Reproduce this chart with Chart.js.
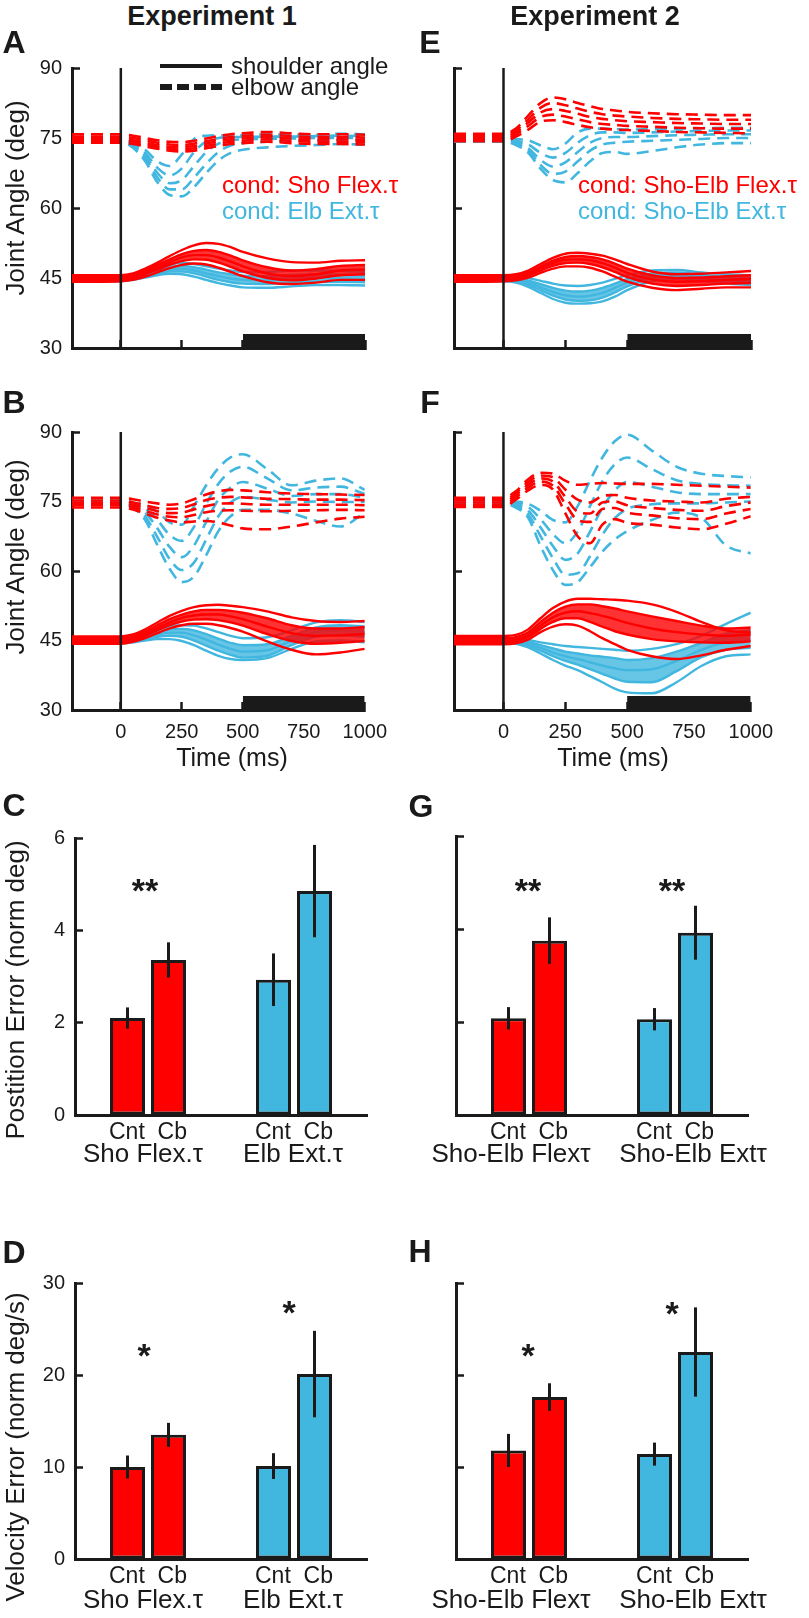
<!DOCTYPE html>
<html lang="en">
<head>
<meta charset="UTF-8">
<title>Joint angle traces and tracking errors</title>
<script src="https://cdn.jsdelivr.net/npm/chart.js"></script>
<style>
    body { margin: 0; background: #fff; }
    #fig { position: relative; width: 809px; height: 1618px; overflow: hidden;
           font-family: "Liberation Sans", Arial, Helvetica, sans-serif; color: #1a1a1a; }
    #fig canvas { position: absolute; }

    /* text placed by its centre */
    .t { position: absolute; white-space: nowrap; line-height: 1; transform: translate(-50%, -50%); z-index: 2; }
    .left { transform: translate(0, -50%); }
    .rot { transform: translate(-50%, -50%) rotate(-90deg); font-size: 26px; }
    .exp { font-weight: bold; font-size: 27px; }
    .letter { font-weight: bold; font-size: 32px; }
    .leg, .cond { font-size: 24px; }
    .red { color: #ff0000; }
    .blue { color: #41b7e0; }
    .xt { font-size: 25px; }
    .grp { font-size: 26px; }
    .star { font-weight: bold; font-size: 34px; }

    /* legend swatches */
    .swatch { position: absolute; z-index: 2; left: 160px; width: 62px; }
    .solid { top: 64px; height: 4px; background: #1a1a1a; }
    .dashed { top: 84px; height: 6px; background: repeating-linear-gradient(90deg, #1a1a1a 0 12px, transparent 12px 17px); }
</style>
</head>
<body>
<div id="fig">
    <div class="t exp" style="left:212px;top:16px">Experiment 1</div>
    <div class="t exp" style="left:595px;top:16px">Experiment 2</div>

    <div class="t letter" style="left:14px;top:42px">A</div>
    <div class="t letter" style="left:430px;top:42px">E</div>
    <div class="t letter" style="left:14px;top:402px">B</div>
    <div class="t letter" style="left:430px;top:402px">F</div>
    <div class="t letter" style="left:14px;top:805px">C</div>
    <div class="t letter" style="left:421px;top:806px">G</div>
    <div class="t letter" style="left:14px;top:1252px">D</div>
    <div class="t letter" style="left:420px;top:1251px">H</div>

    <div class="t rot" style="left:15px;top:198px">Joint Angle (deg)</div>
    <div class="t rot" style="left:15px;top:557px">Joint Angle (deg)</div>
    <div class="t rot" style="left:15px;top:990px">Postition Error (norm deg)</div>
    <div class="t rot" style="left:15px;top:1447px">Velocity Error (norm deg/s)</div>

    <div class="swatch solid"></div>
    <div class="swatch dashed"></div>
    <div class="t left leg" style="left:231px;top:66px">shoulder angle</div>
    <div class="t left leg" style="left:231px;top:87px">elbow angle</div>

    <div class="t left cond red" style="left:222px;top:185px">cond: Sho Flex.τ</div>
    <div class="t left cond blue" style="left:222px;top:211px">cond: Elb Ext.τ</div>
    <div class="t left cond red" style="left:578px;top:185px">cond: Sho-Elb Flex.τ</div>
    <div class="t left cond blue" style="left:578px;top:211px">cond: Sho-Elb Ext.τ</div>

    <div class="t xt" style="left:232px;top:757px">Time (ms)</div>
    <div class="t xt" style="left:613px;top:757px">Time (ms)</div>

    <div class="t grp" style="left:143px;top:1153px">Sho Flex.τ</div>
    <div class="t grp" style="left:293px;top:1153px">Elb Ext.τ</div>
    <div class="t grp" style="left:511px;top:1153px">Sho-Elb Flexτ</div>
    <div class="t grp" style="left:693px;top:1153px">Sho-Elb Extτ</div>
    <div class="t grp" style="left:143px;top:1599px">Sho Flex.τ</div>
    <div class="t grp" style="left:293px;top:1599px">Elb Ext.τ</div>
    <div class="t grp" style="left:511px;top:1599px">Sho-Elb Flexτ</div>
    <div class="t grp" style="left:693px;top:1599px">Sho-Elb Extτ</div>

    <div class="t star" style="left:145px;top:890px">**</div>
    <div class="t star" style="left:528px;top:890px">**</div>
    <div class="t star" style="left:672px;top:890px">**</div>
    <div class="t star" style="left:144px;top:1355px">*</div>
    <div class="t star" style="left:289px;top:1312px">*</div>
    <div class="t star" style="left:528px;top:1355px">*</div>
    <div class="t star" style="left:672px;top:1313px">*</div>
</div>

<script>
    const RED = '#ff0000';
    const BLUE = '#41b7e0';
    const RED_BAND = 'rgba(255, 0, 0, 0.8)';
    const BLUE_BAND = 'rgba(65, 183, 224, 0.8)';
    const INK = '#1a1a1a';

    // time base shared by every trace (ms from perturbation onset)
    const timeMs = [-200, -100, 0, 50, 100, 150, 200, 250, 300, 350, 400, 450, 500, 600, 700, 800, 900, 1000];
    const timeTicks = [0, 250, 500, 750, 1000];
    const angleTicks = [30, 45, 60, 75, 90];
    const stimOnsetMs = 0;
    const holdWindowMs = [500, 1000];
    const holdBarTop = 33;

    // ---- Experiment 1, panel A (control) ----
    const aRedShoulder = [
        [45.6,45.6,45.6,46.0,47.0,48.3,49.7,51.0,52.0,52.5,52.3,51.6,50.6,49.2,48.4,48.3,48.7,48.8],
        [45.3,45.3,45.3,45.7,46.6,47.8,49.0,50.1,50.8,51.0,50.6,49.8,48.8,47.3,46.6,46.9,47.6,47.8],
        [45.0,45.0,45.0,45.4,46.2,47.3,48.4,49.4,49.9,49.9,49.4,48.5,47.5,46.0,45.4,45.8,46.6,46.8],
        [44.6,44.6,44.6,45.0,45.8,46.8,47.8,48.6,49.0,48.9,48.3,47.4,46.4,45.0,44.5,44.9,45.6,45.8],
        [44.2,44.2,44.3,44.6,45.3,46.2,47.1,47.8,48.1,47.9,47.2,46.3,45.4,44.1,43.7,44.0,44.6,44.6]
    ];
    const aBlueShoulder = [
        [45.5,45.5,45.5,45.8,46.4,47.2,47.9,48.2,48.0,47.5,47.0,46.6,46.3,46.3,46.6,46.6,46.5,46.3],
        [45.2,45.2,45.2,45.5,46.1,46.8,47.4,47.6,47.3,46.8,46.2,45.8,45.5,45.4,45.7,45.8,45.7,45.5],
        [44.9,44.9,44.9,45.2,45.8,46.4,46.9,47.0,46.6,46.0,45.4,44.9,44.6,44.5,44.8,45.0,44.9,44.8],
        [44.6,44.6,44.6,44.9,45.4,46.0,46.4,46.4,46.0,45.3,44.6,44.1,43.8,43.7,44.0,44.2,44.2,44.1],
        [44.3,44.3,44.3,44.6,45.1,45.6,45.9,45.8,45.3,44.6,43.9,43.4,43.0,42.9,43.2,43.5,43.5,43.4]
    ];
    const aRedElbow = [
        [75.8,75.8,75.8,75.5,75.0,74.5,74.2,74.1,74.4,74.9,75.4,75.8,76.0,76.3,76.0,75.8,75.8,75.7],
        [75.3,75.3,75.3,75.0,74.5,74.0,73.6,73.5,73.8,74.3,74.8,75.2,75.4,75.7,75.4,75.2,75.2,75.1],
        [74.8,74.8,74.8,74.5,74.0,73.5,73.1,73.0,73.3,73.8,74.3,74.7,74.9,75.2,74.9,74.7,74.7,74.6],
        [74.4,74.4,74.4,74.1,73.6,73.1,72.7,72.5,72.8,73.3,73.8,74.2,74.4,74.7,74.4,74.2,74.2,74.1],
        [74.0,74.0,74.0,73.7,73.2,72.7,72.3,72.1,72.3,72.8,73.3,73.7,73.9,74.2,73.9,73.7,73.7,73.6]
    ];
    const aBlueElbow = [
        [75.0,75.0,75.0,74.2,72.5,70.0,69.0,71.5,74.8,75.5,75.6,75.5,75.6,75.8,75.7,75.7,75.9,75.8],
        [74.8,74.8,74.8,73.8,71.8,68.6,67.0,68.5,72.0,74.3,75.0,75.2,75.2,75.3,75.3,75.4,75.5,75.4],
        [74.6,74.6,74.6,73.5,71.2,67.5,65.3,66.0,69.0,72.0,73.8,74.5,74.7,74.8,74.9,75.0,75.0,75.0],
        [74.4,74.4,74.4,73.2,70.6,66.5,64.0,64.0,66.5,69.5,72.0,73.4,73.9,74.2,74.4,74.5,74.6,74.5],
        [74.2,74.2,74.2,72.9,70.0,65.5,62.8,62.5,64.5,67.5,70.2,71.8,72.5,73.0,73.3,73.5,73.7,73.6]
    ];

    // ---- Experiment 2, panel E (control) ----
    const eRedShoulder = [
        [45.6,45.6,45.6,45.8,46.6,48.0,49.3,50.2,50.4,50.2,49.8,49.0,48.0,46.4,45.8,45.9,46.2,46.5],
        [45.3,45.3,45.3,45.5,46.2,47.5,48.7,49.5,49.7,49.5,49.0,48.1,47.0,45.6,45.0,45.1,45.4,45.6],
        [45.0,45.0,45.0,45.2,45.9,47.1,48.2,48.9,49.0,48.8,48.2,47.2,46.1,44.7,44.2,44.3,44.6,44.8],
        [44.6,44.6,44.6,44.8,45.5,46.6,47.6,48.2,48.3,48.0,47.3,46.3,45.2,43.8,43.3,43.5,43.8,43.9],
        [44.2,44.2,44.3,44.5,45.1,46.1,47.0,47.5,47.5,47.2,46.4,45.3,44.2,42.9,42.4,42.7,43.0,43.0]
    ];
    const eBlueShoulder = [
        [45.5,45.5,45.5,45.4,45.0,44.4,43.8,43.4,43.3,43.5,44.0,44.8,45.6,46.6,46.7,46.2,45.8,45.6],
        [45.2,45.2,45.2,45.0,44.5,43.7,42.9,42.3,42.1,42.3,42.9,43.8,44.8,46.0,46.2,45.7,45.2,45.0],
        [44.9,44.9,44.9,44.7,44.0,43.0,42.0,41.3,41.0,41.2,41.8,42.9,44.0,45.4,45.7,45.2,44.7,44.5],
        [44.6,44.6,44.6,44.3,43.5,42.4,41.2,40.4,40.1,40.2,40.8,41.9,43.2,44.9,45.2,44.8,44.3,44.0],
        [44.3,44.3,44.3,44.0,43.1,41.8,40.5,39.7,39.5,39.6,40.0,41.0,42.4,44.3,44.8,44.4,43.8,43.5]
    ];
    const eRedElbow = [
        [75.9,75.9,75.9,77.0,79.8,82.5,83.7,83.3,82.5,81.8,81.2,80.9,80.6,80.3,80.1,80.0,79.9,79.9],
        [75.5,75.5,75.5,76.6,79.0,81.5,82.5,82.0,81.3,80.6,80.1,79.8,79.6,79.3,79.1,79.0,78.9,78.9],
        [75.1,75.1,75.1,76.2,78.3,80.5,81.2,80.8,80.2,79.5,79.1,78.8,78.6,78.4,78.2,78.1,78.0,78.0],
        [74.7,74.7,74.7,75.8,77.6,79.5,80.0,79.6,79.0,78.4,78.0,77.8,77.6,77.4,77.2,77.1,77.0,77.0],
        [74.3,74.3,74.3,75.3,76.8,78.5,78.8,78.4,77.8,77.3,77.0,76.8,76.7,76.5,76.3,76.2,76.1,76.0]
    ];
    const eBlueElbow = [
        [75.0,75.0,75.0,74.8,74.5,73.4,72.6,73.8,76.2,77.0,77.0,76.9,76.8,76.9,77.0,77.1,77.2,77.2],
        [74.8,74.8,74.8,74.4,73.6,71.8,70.8,71.8,74.0,75.6,76.2,76.2,76.1,76.2,76.4,76.5,76.6,76.6],
        [74.6,74.6,74.6,74.1,72.8,70.3,68.9,69.8,72.0,74.0,75.0,75.2,75.2,75.4,75.6,75.7,75.8,75.8],
        [74.4,74.4,74.4,73.8,72.3,69.2,67.3,67.8,70.0,72.3,73.6,74.0,74.2,74.4,74.6,74.8,75.0,75.0],
        [74.2,74.2,74.2,73.5,71.8,68.4,66.0,65.5,67.5,70.0,71.8,72.0,71.6,72.2,73.0,73.6,73.9,73.9]
    ];

    // ---- Experiment 1, panel B (cerebellar) ----
    const bRedShoulder = [
        [45.9,45.9,45.9,46.3,47.4,48.9,50.3,51.4,52.2,52.6,52.7,52.5,52.2,51.3,50.0,49.2,49.0,49.2],
        [45.5,45.5,45.5,45.9,46.9,48.3,49.6,50.6,51.3,51.6,51.6,51.4,51.0,49.8,48.3,47.6,47.6,47.9],
        [45.1,45.1,45.1,45.5,46.4,47.7,48.9,49.9,50.4,50.6,50.6,50.2,49.6,48.0,46.6,46.0,46.1,46.4],
        [44.7,44.7,44.7,45.1,46.0,47.2,48.3,49.1,49.5,49.6,49.4,48.9,48.2,46.4,44.9,44.3,44.5,44.9],
        [44.3,44.3,44.3,44.7,45.5,46.6,47.6,48.3,48.6,48.6,48.3,47.7,46.9,44.8,43.0,42.0,42.4,43.2]
    ];
    const bBlueShoulder = [
        [45.6,45.6,45.6,45.8,46.5,47.3,48.0,48.3,48.2,47.6,46.8,46.0,45.5,45.7,47.2,48.9,49.4,49.0],
        [45.3,45.3,45.3,45.5,46.1,46.8,47.4,47.5,47.2,46.4,45.4,44.5,44.0,44.2,46.0,47.8,48.3,48.0],
        [45.0,45.0,45.0,45.2,45.7,46.3,46.7,46.7,46.1,45.2,44.1,43.2,42.6,42.9,45.0,46.8,47.2,46.9],
        [44.7,44.7,44.7,44.9,45.3,45.8,46.0,45.8,45.0,43.9,42.8,41.9,41.3,41.7,44.0,45.8,46.1,45.8],
        [44.4,44.4,44.4,44.6,45.0,45.3,45.3,44.9,44.0,42.8,41.7,41.0,40.8,41.2,43.2,44.8,45.0,44.6]
    ];
    const bRedElbow = [
        [75.8,75.8,75.8,75.5,75.0,74.6,74.3,74.6,75.5,76.5,77.2,77.5,77.4,77.0,76.7,76.6,76.5,76.4],
        [75.2,75.2,75.2,74.8,74.2,73.6,73.4,73.6,74.4,75.3,75.8,76.0,75.9,75.6,75.5,75.4,75.4,75.3],
        [74.7,74.7,74.7,74.3,73.6,72.9,72.5,72.6,73.3,74.0,74.5,74.6,74.5,74.3,74.3,74.3,74.3,74.2],
        [74.2,74.2,74.2,73.8,73.0,72.2,71.7,71.6,72.1,72.7,73.0,73.1,73.0,72.9,73.0,73.1,73.2,73.1],
        [73.7,73.7,73.7,73.3,72.4,71.5,70.9,70.5,70.7,70.8,70.5,69.8,69.2,69.0,69.6,70.5,71.3,71.7]
    ];
    const bBlueElbow = [
        [75.2,75.2,75.2,74.8,74.2,72.8,70.5,70.0,74.0,78.5,82.2,84.5,85.2,82.0,78.5,79.5,80.0,77.5],
        [75.0,75.0,75.0,74.5,73.4,71.0,67.8,66.5,69.5,74.5,78.8,81.5,82.5,80.0,77.4,78.0,78.2,76.6],
        [74.8,74.8,74.8,74.2,72.6,69.2,65.2,63.0,65.5,70.6,75.4,78.0,79.2,77.8,76.2,76.6,76.6,75.8],
        [74.6,74.6,74.6,73.9,71.8,67.3,62.6,60.2,61.8,66.8,71.8,74.8,76.0,75.4,74.8,75.0,74.9,74.9],
        [74.4,74.4,74.4,73.6,71.0,65.6,60.5,57.6,58.8,63.4,68.6,71.8,73.2,73.2,72.4,70.8,69.6,72.6]
    ];

    // ---- Experiment 2, panel F (cerebellar) ----
    const fRedShoulder = [
        [46.0,46.0,46.0,46.2,47.4,49.8,52.0,53.4,54.0,54.0,53.9,53.8,53.6,52.8,51.2,49.0,47.2,46.7],
        [45.5,45.5,45.5,45.7,46.8,49.0,51.0,52.3,52.8,52.8,52.4,51.9,51.3,50.2,49.2,48.2,47.6,47.8],
        [45.0,45.0,45.0,45.2,46.2,48.2,50.0,51.0,51.3,50.9,50.3,49.6,48.8,47.6,46.8,46.3,46.0,46.3],
        [44.6,44.6,44.6,44.8,45.7,47.5,49.0,49.8,49.8,49.0,48.0,47.0,46.3,45.3,44.8,44.6,44.5,44.8],
        [44.2,44.2,44.2,44.4,45.2,46.8,48.0,48.5,48.2,47.0,45.5,44.2,43.0,41.6,41.0,41.8,43.0,43.8]
    ];
    const fBlueShoulder = [
        [45.6,45.6,45.6,45.5,45.1,44.6,44.2,43.8,43.6,43.4,43.2,43.0,42.8,43.2,44.2,46.0,48.6,51.0],
        [45.3,45.3,45.3,45.2,44.7,44.0,43.3,42.6,42.2,41.8,41.5,41.2,40.8,41.2,42.6,44.5,46.5,47.2],
        [45.0,45.0,45.0,44.9,44.3,43.4,42.4,41.6,41.0,40.3,39.6,39.0,38.6,38.8,40.6,43.0,44.6,45.0],
        [44.7,44.7,44.7,44.6,43.9,42.8,41.6,40.6,39.8,38.8,37.8,36.8,36.1,36.0,38.4,41.4,43.0,43.4],
        [44.4,44.4,44.4,44.3,43.5,42.2,40.8,39.6,38.6,37.3,36.0,34.6,33.8,33.6,36.0,39.5,41.6,42.0]
    ];
    const fRedElbow = [
        [75.8,75.8,75.8,77.2,79.8,81.2,81.0,79.5,78.6,78.8,79.0,78.9,78.8,78.8,78.6,78.4,78.2,78.0],
        [75.3,75.3,75.3,76.8,79.2,80.6,80.2,77.6,75.4,74.8,76.2,76.4,75.8,75.2,75.0,74.8,75.6,76.0],
        [74.8,74.8,74.8,76.4,78.6,80.0,79.3,76.0,72.8,72.4,74.8,75.0,74.2,73.6,73.2,73.0,74.0,74.8],
        [74.3,74.3,74.3,75.9,78.0,79.3,78.4,74.5,71.0,70.6,73.4,73.6,72.6,72.0,71.4,71.2,72.4,73.4],
        [73.8,73.8,73.8,75.4,77.4,78.6,77.6,72.5,67.5,66.0,70.0,71.2,70.4,70.0,69.4,69.0,70.2,71.8]
    ];
    const fBlueElbow = [
        [75.3,75.3,75.3,75.0,74.5,73.0,71.0,70.5,74.0,79.5,84.5,88.0,89.4,86.0,82.5,81.0,80.5,80.2],
        [75.1,75.1,75.1,74.7,73.8,71.2,68.0,66.0,68.5,74.0,79.4,83.0,84.5,82.0,79.6,78.8,78.5,78.4],
        [74.9,74.9,74.9,74.3,73.0,69.4,65.4,62.4,63.8,68.5,73.6,77.4,79.2,78.2,77.0,76.6,76.6,76.6],
        [74.7,74.7,74.7,74.0,72.2,67.5,62.8,59.2,59.5,63.2,67.8,71.4,73.4,74.4,74.6,74.6,74.8,75.0],
        [74.5,74.5,74.5,73.7,71.5,65.4,60.2,57.0,57.6,60.8,64.2,66.8,68.6,71.0,72.6,71.5,65.5,63.8]
    ];

    // ---- bar panels: means and SEM, order [Flex group, Ext group] ----
    const pairLabels = ['Cnt', 'Cb'];
    const groupsExp1 = ['Sho Flex.τ', 'Elb Ext.τ'];
    const groupsExp2 = ['Sho-Elb Flexτ', 'Sho-Elb Extτ'];
    const groupColors = [RED, BLUE];

    const posCntExp1 = [2.10, 2.93], posCntSemExp1 = [0.23, 0.57];
    const posCbExp1  = [3.36, 4.85], posCbSemExp1  = [0.38, 1.00];
    const posCntExp2 = [2.08, 2.06], posCntSemExp2 = [0.24, 0.24];
    const posCbExp2  = [3.75, 3.92], posCbSemExp2  = [0.50, 0.58];
    const velCntExp1 = [10.0, 10.1], velCntSemExp1 = [1.25, 1.40];
    const velCbExp1  = [13.5, 20.1], velCbSemExp1  = [1.30, 4.70];
    const velCntExp2 = [11.8, 11.4], velCntSemExp2 = [1.80, 1.25];
    const velCbExp2  = [17.6, 22.5], velCbSemExp2  = [1.50, 4.85];
    const posTicks = [0, 2, 4, 6];
    const velTicks = [0, 10, 20, 30];

    // ---------------------------------------------------------------
    Chart.defaults.font.family = '"Liberation Sans", Arial, sans-serif';
    Chart.defaults.color = INK;

    const PAD = { l: 62, r: 40, t: 16, b: 46 };
    const tickFont = { size: 20 };

    function placeCanvas(box) {
        const c = document.createElement('canvas');
        c.width = box.r - box.l + PAD.l + PAD.r;
        c.height = box.b - box.t + PAD.t + PAD.b;
        c.style.left = (box.l - PAD.l) + 'px';
        c.style.top = (box.t - PAD.t) + 'px';
        document.getElementById('fig').appendChild(c);
        return c;
    }

    function yAxis(min, max, ticks, showLabels) {
        return {
            min: min, max: max,
            afterBuildTicks: s => { s.ticks = ticks.map(v => ({ value: v })); },
            afterFit: s => { s.width = PAD.l; },
            ticks: { font: tickFont, padding: 18, callback: v => showLabels ? v : '' },
            grid: { display: true, drawOnChartArea: false, drawTicks: true, tickLength: -8,
                    tickColor: INK, tickWidth: 2.5 },
            border: { display: true, color: INK, width: 3 }
        };
    }

    const baseOptions = {
        animation: false,
        responsive: false,
        events: [],
        layout: { padding: { top: PAD.t, right: PAD.r, left: 0, bottom: 0 } },
        plugins: { legend: { display: false }, tooltip: { enabled: false } }
    };

    // the inner trials of a solid (shoulder) bundle are filled to read as a dense band;
    // the outermost trials stay as single lines
    function traceSets(traces, color, band, dashed, order) {
        const last = traces.length - 1;
        return traces.map((tr, k) => ({
            data: timeMs.map((t, i) => ({ x: t, y: tr[i] })),
            borderColor: color,
            borderWidth: dashed ? 2.6 : 2.4,
            borderDash: dashed ? [12, 7] : [],
            pointRadius: 0,
            cubicInterpolationMode: 'monotone',
            fill: (!dashed && k > 1 && k < last) ? '-1' : false,
            backgroundColor: band,
            order: order
        }));
    }

    function drawTraces(box, sets, showY, showX) {
        const datasets = [
            { data: [{ x: stimOnsetMs, y: angleTicks[0] }, { x: stimOnsetMs, y: angleTicks[angleTicks.length - 1] }],
              borderColor: INK, borderWidth: 2.5, pointRadius: 0, fill: false, order: 0 },
            { data: holdWindowMs.map(t => ({ x: t, y: holdBarTop })),
              borderWidth: 0, pointRadius: 0, fill: 'start', backgroundColor: INK, order: 0 },
            ...traceSets(sets.redSho, RED, RED_BAND, false, 1),
            ...traceSets(sets.redElb, RED, RED_BAND, true, 1),
            ...traceSets(sets.blueSho, BLUE, BLUE_BAND, false, 2),
            ...traceSets(sets.blueElb, BLUE, BLUE_BAND, true, 2)
        ];
        new Chart(placeCanvas(box), {
            type: 'line',
            data: { datasets },
            options: {
                ...baseOptions,
                scales: {
                    x: {
                        type: 'linear', min: timeMs[0], max: timeMs[timeMs.length - 1],
                        afterBuildTicks: s => { s.ticks = timeTicks.map(v => ({ value: v })); },
                        afterFit: s => { s.height = PAD.b; },
                        ticks: { font: tickFont, padding: 18, maxRotation: 0, autoSkip: false,
                                 callback: v => showX ? v : '' },
                        grid: { display: true, drawOnChartArea: false, drawTicks: true, tickLength: -8,
                                tickColor: INK, tickWidth: 2.5 },
                        border: { display: true, color: INK, width: 3 }
                    },
                    y: yAxis(angleTicks[0], angleTicks[angleTicks.length - 1], angleTicks, showY)
                }
            }
        });
    }

    const errorBars = {
        id: 'errorBars',
        afterDatasetsDraw(chart) {
            const ctx = chart.ctx;
            const y = chart.scales.y;
            chart.data.datasets.forEach((ds, i) => {
                chart.getDatasetMeta(i).data.forEach((bar, j) => {
                    const m = ds.data[j], e = ds.sem[j];
                    ctx.save();
                    ctx.strokeStyle = INK;
                    ctx.lineWidth = 3;
                    ctx.beginPath();
                    ctx.moveTo(bar.x, y.getPixelForValue(m - e));
                    ctx.lineTo(bar.x, y.getPixelForValue(m + e));
                    ctx.stroke();
                    ctx.restore();
                });
            });
        }
    };

    function drawBars(box, groups, cnt, cntSem, cb, cbSem, ticks, showY) {
        const barStyle = { backgroundColor: groupColors, borderColor: INK, borderWidth: 3,
                           borderSkipped: false, categoryPercentage: 0.5616, barPercentage: 0.8537 };
        new Chart(placeCanvas(box), {
            type: 'bar',
            data: {
                labels: groups,
                datasets: [
                    { label: pairLabels[0], data: cnt, sem: cntSem, ...barStyle },
                    { label: pairLabels[1], data: cb, sem: cbSem, ...barStyle }
                ]
            },
            options: {
                ...baseOptions,
                scales: {
                    x: {
                        afterFit: s => { s.height = PAD.b; },
                        ticks: { font: { size: 23 }, padding: 4, maxRotation: 0, autoSkip: false,
                                 callback: () => pairLabels.join('  ') },
                        grid: { display: false, drawTicks: false },
                        border: { display: true, color: INK, width: 3 }
                    },
                    y: yAxis(ticks[0], ticks[ticks.length - 1], ticks, showY)
                }
            },
            plugins: [errorBars]
        });
    }

    drawTraces({ l: 72, r: 365, t: 54, b: 348 },
        { redSho: aRedShoulder, blueSho: aBlueShoulder, redElb: aRedElbow, blueElb: aBlueElbow }, true, false);
    drawTraces({ l: 454, r: 751, t: 54, b: 348 },
        { redSho: eRedShoulder, blueSho: eBlueShoulder, redElb: eRedElbow, blueElb: eBlueElbow }, false, false);
    drawTraces({ l: 72, r: 365, t: 418, b: 710 },
        { redSho: bRedShoulder, blueSho: bBlueShoulder, redElb: bRedElbow, blueElb: bBlueElbow }, true, true);
    drawTraces({ l: 454, r: 751, t: 418, b: 710 },
        { redSho: fRedShoulder, blueSho: fBlueShoulder, redElb: fRedElbow, blueElb: fBlueElbow }, false, true);

    drawBars({ l: 75, r: 367, t: 824, b: 1115 }, groupsExp1, posCntExp1, posCntSemExp1, posCbExp1, posCbSemExp1, posTicks, true);
    drawBars({ l: 456, r: 748, t: 822, b: 1115 }, groupsExp2, posCntExp2, posCntSemExp2, posCbExp2, posCbSemExp2, posTicks, false);
    drawBars({ l: 75, r: 367, t: 1269, b: 1559 }, groupsExp1, velCntExp1, velCntSemExp1, velCbExp1, velCbSemExp1, velTicks, true);
    drawBars({ l: 456, r: 748, t: 1269, b: 1559 }, groupsExp2, velCntExp2, velCntSemExp2, velCbExp2, velCbSemExp2, velTicks, false);
</script>
</body>
</html>
